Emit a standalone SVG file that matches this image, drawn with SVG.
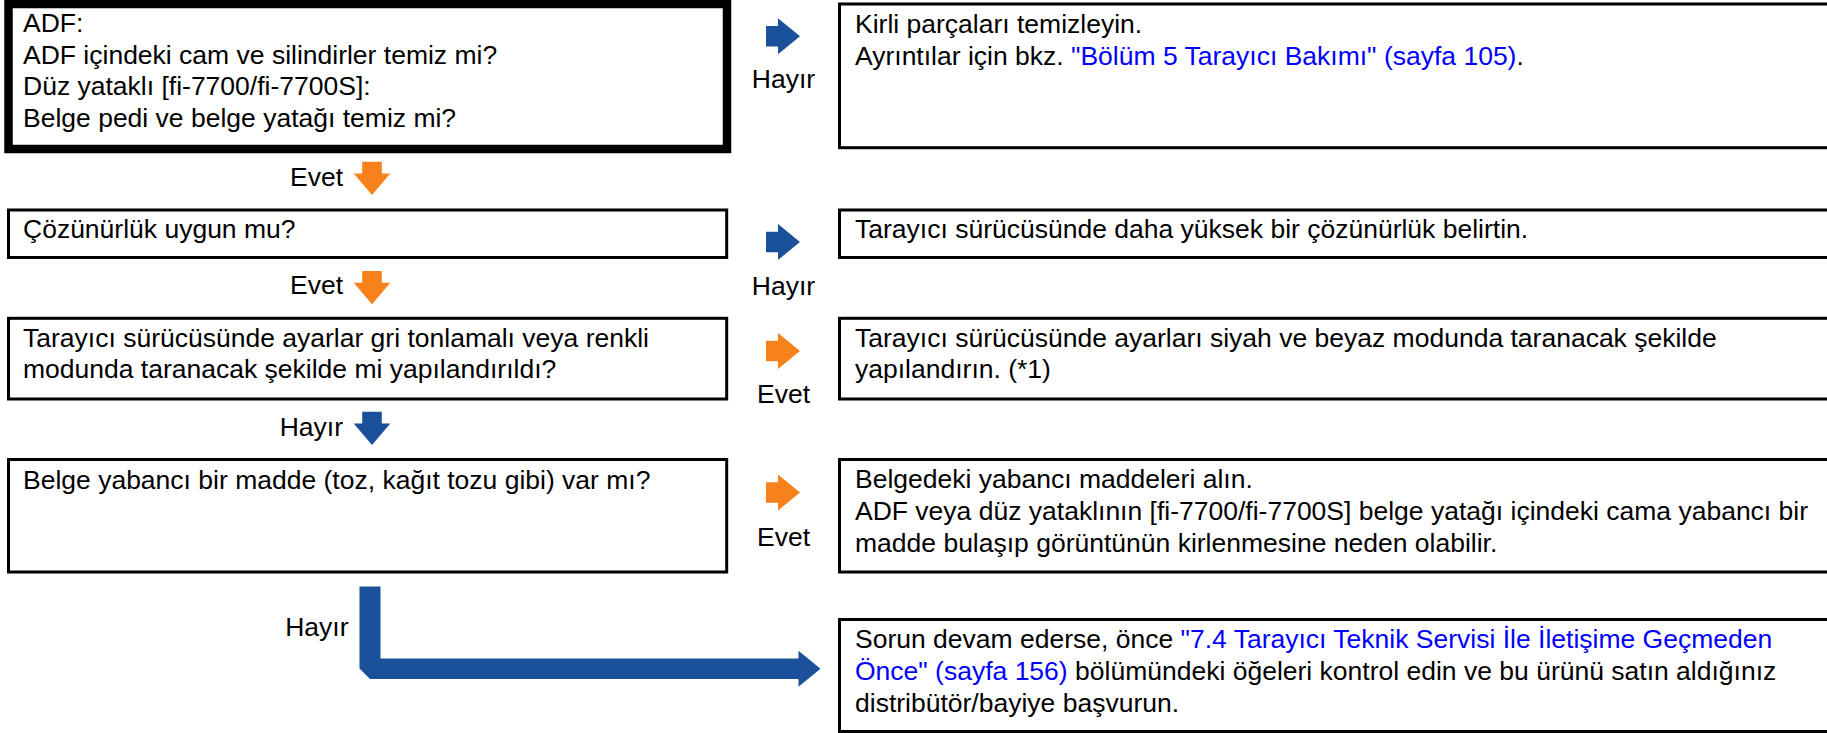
<svg xmlns="http://www.w3.org/2000/svg" width="1827" height="733" viewBox="0 0 1827 733">
<style>
.t{font-family:"Liberation Sans",Arial,Helvetica,sans-serif;font-size:26.5px;fill:#000}
.lnk{fill:#0000ff}
.box{fill:#fff;stroke:#000;stroke-width:3}
.thick{fill:#fff;stroke:#000;stroke-width:8.5}
.blue{fill:#1b519b}
.orange{fill:#f7821b}
.lbl{font-family:"Liberation Sans",Arial,Helvetica,sans-serif;font-size:26.5px;fill:#000}
</style>
<defs>
<path id="ar" d="M0,-10.3 H12 V-18 L34,0 L12,18 V10.3 H0 Z"/>
<path id="ad" d="M-9.8,0 H9.8 V11.7 H18.3 L0,33.3 L-18.3,11.7 H-9.8 Z"/>
</defs>
<rect width="1827" height="733" fill="#fff"/>

<g id="q1">
<rect class="thick" x="8.5" y="4" width="718.5" height="145"/>
<text class="t" x="23" y="32">ADF:</text>
<text class="t" x="23" y="63.7">ADF içindeki cam ve silindirler temiz mi?</text>
<text class="t" x="23" y="95.4">Düz yataklı [fi-7700/fi-7700S]:</text>
<text class="t" x="23" y="127">Belge pedi ve belge yatağı temiz mi?</text>
</g>
<g id="a1">
<rect class="box" x="839.5" y="4" width="995" height="143.7"/>
<text class="t" x="855" y="33">Kirli parçaları temizleyin.</text>
<text class="t" x="855" y="64.7">Ayrıntılar için bkz. <tspan class="lnk">"Bölüm 5 Tarayıcı Bakımı" (sayfa 105)</tspan>.</text>
</g>

<g id="q2">
<rect class="box" x="8.5" y="210" width="718.2" height="47.5"/>
<text class="t" x="23" y="238">Çözünürlük uygun mu?</text>
</g>
<g id="a2">
<rect class="box" x="839.5" y="210" width="995" height="47.5"/>
<text class="t" x="855" y="238">Tarayıcı sürücüsünde daha yüksek bir çözünürlük belirtin.</text>
</g>

<g id="q3">
<rect class="box" x="8.5" y="318.3" width="718.2" height="80.7"/>
<text class="t" x="23" y="346.7">Tarayıcı sürücüsünde ayarlar gri tonlamalı veya renkli</text>
<text class="t" x="23" y="378.4">modunda taranacak şekilde mi yapılandırıldı?</text>
</g>
<g id="a3">
<rect class="box" x="839.5" y="318.3" width="995" height="80.7"/>
<text class="t" x="855" y="346.7">Tarayıcı sürücüsünde ayarları siyah ve beyaz modunda taranacak şekilde</text>
<text class="t" x="855" y="378.4">yapılandırın. (*1)</text>
</g>

<g id="q4">
<rect class="box" x="8.5" y="459.5" width="718.2" height="112.5"/>
<text class="t" x="23" y="489">Belge yabancı bir madde (toz, kağıt tozu gibi) var mı?</text>
</g>
<g id="a4">
<rect class="box" x="839.5" y="459.5" width="995" height="112.5"/>
<text class="t" x="855" y="488.3">Belgedeki yabancı maddeleri alın.</text>
<text class="t" x="855" y="520">ADF veya düz yataklının [fi-7700/fi-7700S] belge yatağı içindeki cama yabancı bir</text>
<text class="t" x="855" y="551.7">madde bulaşıp görüntünün kirlenmesine neden olabilir.</text>
</g>

<g id="a5">
<rect class="box" x="839.5" y="619.5" width="995" height="112"/>
<text class="t" x="855" y="648.3">Sorun devam ederse, önce <tspan class="lnk">"7.4 Tarayıcı Teknik Servisi İle İletişime Geçmeden</tspan></text>
<text class="t" x="855" y="680"><tspan class="lnk">Önce" (sayfa 156)</tspan> bölümündeki öğeleri kontrol edin ve bu ürünü satın aldığınız</text>
<text class="t" x="855" y="711.7">distribütör/bayiye başvurun.</text>
</g>

<g id="connectors">
<use href="#ar" class="blue" x="766" y="36.3"/>
<text class="lbl" x="783.5" y="88.3" text-anchor="middle">Hayır</text>
<use href="#ar" class="blue" x="766" y="242"/>
<text class="lbl" x="783.5" y="295" text-anchor="middle">Hayır</text>
<use href="#ar" class="orange" x="766" y="351"/>
<text class="lbl" x="783.5" y="403.3" text-anchor="middle">Evet</text>
<use href="#ar" class="orange" x="766" y="492.5"/>
<text class="lbl" x="783.5" y="546" text-anchor="middle">Evet</text>

<use href="#ad" class="orange" x="372" y="161.7"/>
<text class="lbl" x="343" y="185.7" text-anchor="end">Evet</text>
<use href="#ad" class="orange" x="372" y="271"/>
<text class="lbl" x="343" y="294" text-anchor="end">Evet</text>
<use href="#ad" class="blue" x="372" y="411.7"/>
<text class="lbl" x="343" y="435.5" text-anchor="end">Hayır</text>

<polygon class="blue" points="359.5,586.5 380.5,586.5 380.5,658.5 798.5,658.5 798.5,650.7 820.5,668.7 798.5,686.7 798.5,679 370,679 359.5,668.5"/>
<text class="lbl" x="348.5" y="635.5" text-anchor="end">Hayır</text>
</g>
</svg>
